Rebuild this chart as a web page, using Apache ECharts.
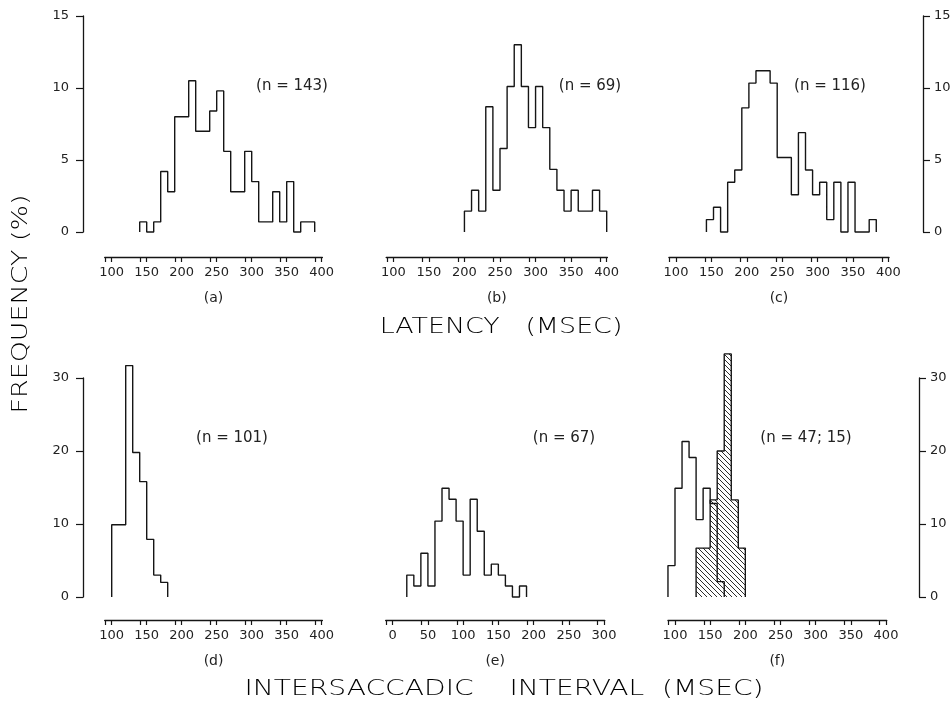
<!DOCTYPE html>
<html><head><meta charset="utf-8">
<script src="https://cdn.jsdelivr.net/npm/echarts@6/dist/echarts.min.js"></script>
<style>html,body{margin:0;padding:0;background:#fff}#c{width:952px;height:709px}</style>
</head><body><div id="c"></div>
<script>
// ---------------- DATA (frequency in %, 10 ms bins) ----------------
const aStart = 140, aWidth = 10;
const aValues = [0.7,0,0.7,4.2,2.8,8.0,8.0,10.5,7.0,7.0,8.4,9.8,5.6,2.8,2.8,5.6,3.5,0.7,0.7,2.8,0.7,3.5,0,0.7,0.7];
const bStart = 200, bWidth = 10;
const bValues = [1.45,2.9,1.45,8.7,2.9,5.8,10.1,13.0,10.1,7.25,10.1,7.25,4.35,2.9,1.45,2.9,1.45,1.45,2.9,1.45];
const cStart = 143, cWidth = 10;
const cValues = [0.86,1.72,0,3.45,4.31,8.62,10.34,11.2,11.2,10.34,5.17,5.17,2.59,6.9,4.31,2.59,3.45,0.86,3.45,0,3.45,0,0,0.86];
const dStart = 100, dWidth = 10;
const dValues = [9.9,9.9,31.7,19.8,15.8,7.9,3.0,2.0];
const eStart = 20, eWidth = 10;
const eValues = [3.0,1.5,6.0,1.5,10.4,14.9,13.4,10.4,3.0,13.4,9.0,3.0,4.5,3.0,1.5,0,1.5];
const fOpenStart = 90, fOpenWidth = 10;
const fOpenValues = [4.3,14.9,21.3,19.1,10.6,14.9,12.8,2.1];
const fHatchStart = 130, fHatchWidth = 10;
const fHatchValues = [6.7,6.7,13.3,20.0,33.3,13.3,6.7];

const latencyTicks = [100,150,200,250,300,350,400];
const intervalTicksE = [0,50,100,150,200,250,300];
const topYMax = 15, topYStep = 5;
const botYMax = 30, botYStep = 10;
const nLabels = ['(n = 143)','(n = 69)','(n = 116)','(n = 101)','(n = 67)','(n = 47; 15)'];
const panelNames = ['(a)','(b)','(c)','(d)','(e)','(f)'];
const titleTop = 'LATENCY   (MSEC)';
const titleBottom = 'INTERSACCADIC    INTERVAL  (MSEC)';
const titleY = 'FREQUENCY (%)';

// ---------------- LAYOUT ----------------
const INK = '#151515';
const FONT = '"DejaVu Sans", sans-serif';
const rows = [
  {top:16, bottom:232, max:topYMax, step:topYStep, axisY:257, nY:86},
  {top:378, bottom:597, max:botYMax, step:botYStep, axisY:620, nY:438}
];
const panels = [
  {row:0, ticks:latencyTicks, p0:111.7, p1:321.7, yAxis:'left',  yx:83,  nx:292},
  {row:0, ticks:latencyTicks, p0:393.3, p1:606.7, yAxis:'none',  nx:590},
  {row:0, ticks:latencyTicks, p0:676,   p1:888.3, yAxis:'right', yx:923, nx:830},
  {row:1, ticks:latencyTicks, p0:111.7, p1:321.7, yAxis:'left',  yx:83,  nx:232},
  {row:1, ticks:intervalTicksE, p0:392.7, p1:604, yAxis:'none',  nx:564},
  {row:1, ticks:latencyTicks, p0:675,   p1:886,   yAxis:'right', yx:919, nx:806}
];

function steps(start, width, vals){
  const pts = [[start, 0]];
  vals.forEach((v, i) => { pts.push([start + i*width, v]); pts.push([start + (i+1)*width, v]); });
  pts.push([start + vals.length*width, 0]);
  return pts;
}

// hatch pattern
const tile = document.createElement('canvas');
tile.width = 5; tile.height = 5;
const tc = tile.getContext('2d');
tc.strokeStyle = INK; tc.lineWidth = 0.9;
tc.beginPath();
tc.moveTo(0,0); tc.lineTo(5,5);
tc.moveTo(4,-1); tc.lineTo(6,1);
tc.moveTo(-1,4); tc.lineTo(1,6);
tc.stroke();

const grids = [], xAxes = [], yAxes = [], graphics = [];
panels.forEach((p, i) => {
  const r = rows[p.row];
  const v0 = p.ticks[0], v1 = p.ticks[p.ticks.length-1];
  const k = (p.p1 - p.p0) / (v1 - v0);
  const lo = v0 - 10, hi = v1 + 1;
  const gl = p.p0 - (v0 - lo)*k, gw = (hi - lo)*k;
  grids.push({left:gl, top:r.top, width:gw, height:r.bottom - r.top, outerBoundsMode:'none', containLabel:false});
  const tickVals = [];
  p.ticks.forEach(t => { tickVals.push(t - 9); tickVals.push(t); });
  xAxes.push({
    type:'value', gridIndex:i, min:lo, max:hi, position:'bottom', offset:r.axisY - r.bottom,
    axisLine:{show:true, onZero:false, lineStyle:{color:INK, width:1.3}},
    axisTick:{show:true, inside:false, length:5, customValues:tickVals, lineStyle:{color:INK, width:1.2}},
    axisLabel:{show:true, customValues:p.ticks, color:'#222', fontFamily:FONT, fontSize:13, margin:9},
    splitLine:{show:false},
    name:panelNames[i], nameLocation:'middle', nameGap:34,
    nameTextStyle:{color:'#222', fontFamily:FONT, fontSize:14}
  });
  const ya = {
    type:'value', gridIndex:i, min:0, max:r.max, interval:r.step,
    splitLine:{show:false}
  };
  if (p.yAxis === 'none') {
    ya.show = false;
  } else {
    ya.position = p.yAxis;
    ya.offset = p.yAxis === 'left' ? (gl - p.yx) : (p.yx - (gl + gw));
    ya.axisLine = {show:true, lineStyle:{color:INK, width:1.3}};
    ya.axisTick = {show:true, inside:false, length:7, lineStyle:{color:INK, width:1.2}};
    ya.axisLabel = {color:'#222', fontFamily:FONT, fontSize:13, margin: p.yAxis === 'left' ? 14 : 11};
  }
  yAxes.push(ya);
  graphics.push({type:'text', x:p.nx, y:r.nY, style:{text:nLabels[i], font:'15px ' + FONT, fill:'#222', align:'center', verticalAlign:'middle', textAlign:'center', textVerticalAlign:'middle'}});
});

function histSeries(idx, start, width, vals, hatch){
  const s = {
    type:'line', xAxisIndex:idx, yAxisIndex:idx, data:steps(start, width, vals),
    showSymbol:false, symbol:'none', silent:true, animation:false, clip:false,
    lineStyle:{color:INK, width:1.4}, z: hatch ? 2 : 3
  };
  if (hatch) s.areaStyle = {color:{image:tile, repeat:'repeat'}, opacity:1, origin:'start'};
  return s;
}

const series = [
  histSeries(0, aStart, aWidth, aValues),
  histSeries(1, bStart, bWidth, bValues),
  histSeries(2, cStart, cWidth, cValues),
  histSeries(3, dStart, dWidth, dValues),
  histSeries(4, eStart, eWidth, eValues),
  histSeries(5, fHatchStart, fHatchWidth, fHatchValues, true),
  histSeries(5, fOpenStart, fOpenWidth, fOpenValues)
];

const TFONT = '300 21px ' + FONT;
graphics.push({type:'text', x:501, y:328, scaleX:1.28, style:{text:titleTop, font:TFONT, fill:'#000', align:'center', verticalAlign:'middle', textAlign:'center', textVerticalAlign:'middle'}});
graphics.push({type:'text', x:504, y:690, scaleX:1.34, style:{text:titleBottom, font:TFONT, fill:'#000', align:'center', verticalAlign:'middle', textAlign:'center', textVerticalAlign:'middle'}});
graphics.push({type:'text', x:22, y:304, rotation:Math.PI/2, scaleX:1.28, style:{text:titleY, font:TFONT, fill:'#000', align:'center', verticalAlign:'middle', textAlign:'center', textVerticalAlign:'middle'}});

const chart = echarts.init(document.getElementById('c'), null, {renderer:'canvas'});
chart.setOption({
  backgroundColor:'#fff',
  animation:false,
  grid:grids, xAxis:xAxes, yAxis:yAxes, series:series,
  graphic:graphics
});
</script></body></html>
